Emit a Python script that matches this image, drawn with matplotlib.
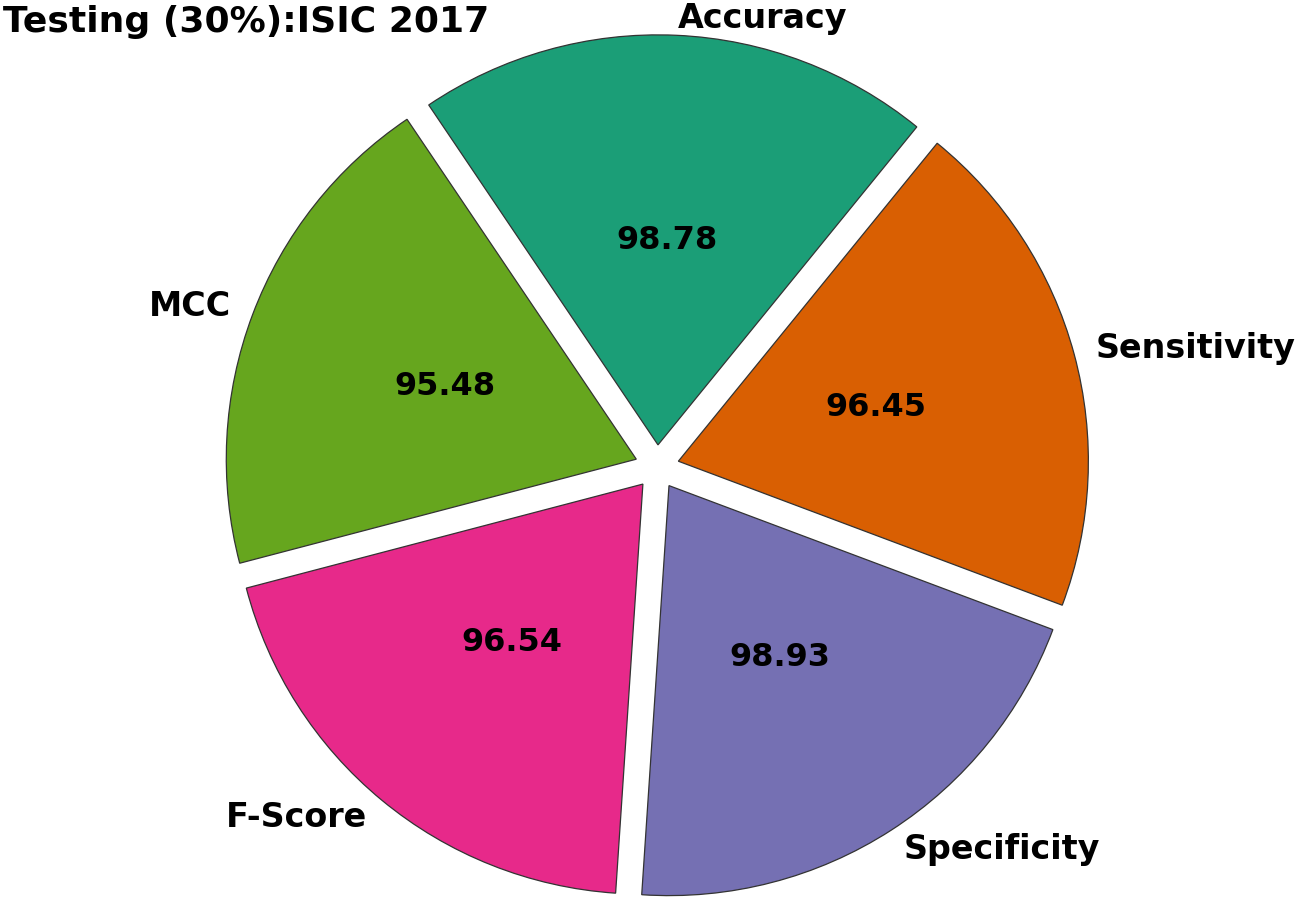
import matplotlib
matplotlib.use("Agg")
import matplotlib.pyplot as plt

# Metric values (Testing 30%, ISIC 2017)
metrics = ["Accuracy", "Sensitivity", "Specificity", "F-Score", "MCC"]
values = [98.78, 96.45, 98.93, 96.54, 95.48]
colors = ["#1b9e77", "#d95f02", "#7570b3", "#e7298a", "#66a61e"]

plt.rcParams['font.family'] = ['DejaVu Sans']

fig = plt.figure(figsize=(12.98, 9), dpi=100)
ax = fig.add_axes([0, 0, 1, 1])

total = sum(values)
wedges, texts, autotexts = ax.pie(
    values,
    labels=metrics,
    colors=colors,
    explode=[0.054] * len(values),
    startangle=124,
    counterclock=False,
    labeldistance=1.055,
    pctdistance=0.5,
    autopct=lambda p: f"{p * total / 100:.2f}",
    wedgeprops=dict(edgecolor="#333333", linewidth=0.9),
)

for t in texts:
    t.set_fontsize(24)
    t.set_fontweight("bold")
for t in autotexts:
    t.set_fontsize(23)
    t.set_fontweight("bold")
    t.set_color("black")

# map data units to pixels: center at (657, 467) px, radius 410 px
s = 410.0
ax.set_xlim(-657 / s, (1298 - 657) / s)
ax.set_ylim(-(900 - 467) / s, 467 / s)
ax.set_aspect("auto")
ax.axis("off")

# top label sits right at the figure edge; keep it inside
x0, y0 = texts[0].get_position()
texts[0].set_position((x0, y0 - 6 / s))

fig.text(0.002, 0.994, "Testing (30%):ISIC 2017", fontsize=26,
         fontweight="bold", ha="left", va="top")

fig.savefig("out.png", dpi=100)
